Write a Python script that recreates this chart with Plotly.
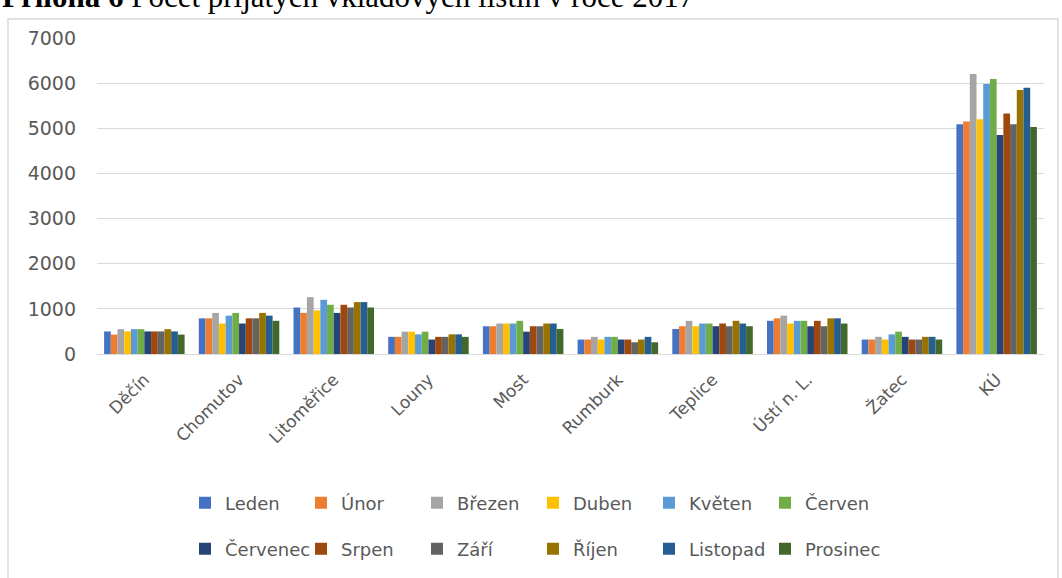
import plotly.graph_objects as go

# Offices (x categories) and months (series)
offices = ["Děčín", "Chomutov", "Litoměřice", "Louny", "Most", "Rumburk",
           "Teplice", "Ústí n. L.", "Žatec", "KÚ"]
months = ["Leden", "Únor", "Březen", "Duben", "Květen", "Červen",
          "Červenec", "Srpen", "Září", "Říjen", "Listopad", "Prosinec"]

# Number of accepted deposit documents per office, one list per month
leden = [500, 790, 1030, 380, 615, 320, 555, 735, 320, 5090]
unor = [430, 790, 910, 380, 615, 320, 615, 790, 320, 5150]
brezen = [550, 910, 1260, 495, 675, 380, 735, 850, 380, 6200]
duben = [500, 675, 965, 495, 675, 320, 615, 675, 320, 5200]
kveten = [550, 850, 1200, 435, 675, 380, 675, 735, 435, 5980]
cerven = [550, 910, 1090, 495, 735, 380, 675, 735, 495, 6090]
cervenec = [500, 675, 910, 320, 495, 320, 615, 615, 380, 4850]
srpen = [500, 790, 1090, 380, 615, 320, 675, 735, 320, 5330]
zari = [500, 790, 1030, 380, 615, 260, 615, 615, 320, 5090]
rijen = [550, 910, 1150, 435, 675, 320, 735, 790, 380, 5850]
listopad = [500, 850, 1150, 435, 675, 380, 675, 790, 380, 5900]
prosinec = [430, 735, 1030, 380, 555, 260, 615, 675, 320, 5030]

series = [leden, unor, brezen, duben, kveten, cerven,
          cervenec, srpen, zari, rijen, listopad, prosinec]

colors = ["#4472C4", "#ED7D31", "#A5A5A5", "#FFC000", "#5B9BD5", "#70AD47",
          "#264478", "#9E480E", "#636363", "#997300", "#255E91", "#43682B"]

W, H = 1062, 578
L, R, T, B = 97, 18, 38, 223
pw, ph = W - L - R, H - T - B


def px_x(p):
    return (p - L) / pw


def px_y(p):
    return (H - B - p) / ph


TEXT = "#595959"
GRID = "#D9D9D9"
FONT = "DejaVu Sans"

fig = go.Figure()
for i, (name, vals, col) in enumerate(zip(months, series, colors)):
    fig.add_trace(go.Bar(
        x=offices, y=vals, name=name, marker_color=col,
        marker_line_width=0,
        legend="legend" if i < 6 else "legend2",
    ))

legend_common = dict(
    orientation="h", xanchor="left", yanchor="middle",
    entrywidth=71, entrywidthmode="pixels", itemwidth=30,
    font=dict(family=FONT, size=18, color=TEXT),
    bgcolor="rgba(0,0,0,0)", traceorder="normal",
)

fig.update_layout(
    width=W, height=H,
    margin=dict(l=L, r=R, t=T, b=B, pad=0),
    paper_bgcolor="white", plot_bgcolor="white",
    barmode="group", bargap=0.15, bargroupgap=0,
    showlegend=True,
    legend=dict(x=px_x(185), y=px_y(503), **legend_common),
    legend2=dict(x=px_x(185), y=px_y(549), **legend_common),
    xaxis=dict(
        tickangle=-45, showline=True, linecolor=GRID, linewidth=1,
        showgrid=False, ticks="outside", ticklen=8,
        tickcolor="rgba(0,0,0,0)",
        tickfont=dict(family=FONT, size=17, color=TEXT),
    ),
    yaxis=dict(
        range=[0, 7000], dtick=1000, showgrid=True, gridcolor=GRID,
        gridwidth=1, zeroline=False, showline=False, ticks="",
        ticklabelstandoff=20,
        tickfont=dict(family=FONT, size=19, color=TEXT),
    ),
    shapes=[dict(
        type="rect", xref="paper", yref="paper",
        x0=px_x(8), x1=px_x(1058), y0=px_y(600), y1=px_y(19),
        line=dict(color=GRID, width=1.5), fillcolor="rgba(0,0,0,0)",
        layer="below",
    )],
    annotations=[dict(
        text="<b>Příloha 6</b> Počet přijatých vkladových listin v roce 2017",
        xref="paper", yref="paper", x=px_x(0), y=px_y(16),
        xanchor="left", yanchor="bottom", showarrow=False,
        font=dict(family="Liberation Serif", size=31, color="black"),
    )],
)

fig.write_html("out.html")
